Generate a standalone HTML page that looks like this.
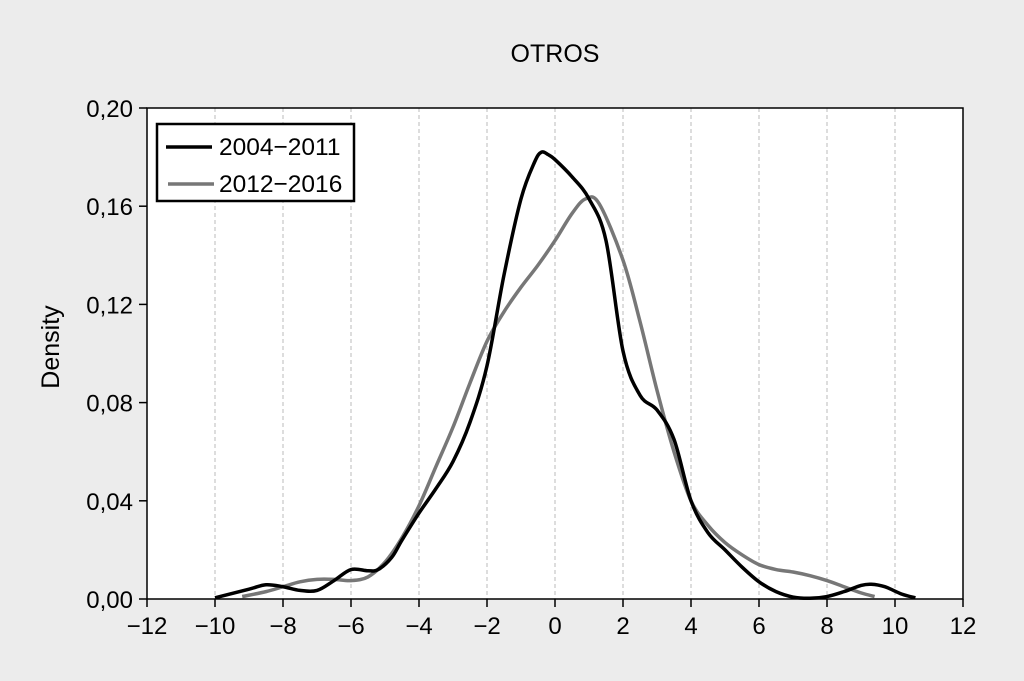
<!DOCTYPE html>
<html><head><meta charset="utf-8"><style>
body{margin:0;background:#ececec;}
svg{display:block;font-family:"Liberation Sans",Arial,sans-serif;}
</style></head><body>
<svg id="c" width="1024" height="681">
<rect width="1024" height="681" fill="#ececec"/>
<text x="555" y="62" font-size="25" text-anchor="middle">OTROS</text>
<rect x="147" y="108" width="816" height="491" fill="#fff"/>
<g id="grid"></g>
<g id="series"></g>
<rect x="147" y="108" width="816" height="491" fill="none" stroke="#000" stroke-width="1.5"/>
<g id="axes"></g>
<text transform="translate(59,347) rotate(-90)" font-size="25" text-anchor="middle">Density</text>
<g>
<rect x="157" y="124" width="197" height="77" fill="#fff" stroke="#000" stroke-width="2.5"/>
<line x1="166" y1="147" x2="212" y2="147" stroke="#000" stroke-width="3.5"/>
<text x="219" y="155" font-size="24.5">2004−2011</text>
<line x1="168" y1="184" x2="214" y2="184" stroke="#777" stroke-width="3.5"/>
<text x="219" y="192" font-size="24.5">2012−2016</text>
</g>
</svg>
<script>
const xTicks=[-12,-10,-8,-6,-4,-2,0,2,4,6,8,10,12];
const yTicks=[0,0.04,0.08,0.12,0.16,0.20];
const yLabels=["0,00","0,04","0,08","0,12","0,16","0,20"];
const xA=[-10,-9,-8.5,-8,-7.5,-7,-6.5,-6,-5.5,-5.2,-4.8,-4.5,-4,-3.5,-3,-2.5,-2,-1.5,-1,-0.6,-0.4,-0.2,0,0.5,1,1.5,2,2.5,3,3.5,4,4.5,5,5.5,6,6.5,7,7.5,8,8.5,9,9.3,9.7,10.2,10.6];
const yA=[0.0005,0.004,0.0058,0.005,0.0035,0.0035,0.0075,0.012,0.0115,0.012,0.017,0.024,0.035,0.045,0.056,0.072,0.095,0.132,0.163,0.178,0.182,0.181,0.179,0.172,0.163,0.146,0.101,0.083,0.077,0.065,0.04,0.027,0.02,0.013,0.007,0.003,0.0008,0.0003,0.001,0.003,0.0055,0.006,0.005,0.002,0.0005];
const xB=[-9.2,-8.5,-8,-7.5,-7,-6.5,-6,-5.5,-5,-4.5,-4,-3.5,-3,-2.5,-2,-1.5,-1,-0.5,0,0.5,0.9,1.3,2,2.5,3,3.5,4,4.5,5,5.5,6,6.5,7,7.5,8,8.5,9,9.4];
const yB=[0.001,0.003,0.005,0.007,0.008,0.008,0.0075,0.009,0.015,0.025,0.038,0.054,0.07,0.088,0.105,0.117,0.127,0.136,0.146,0.157,0.163,0.161,0.138,0.113,0.085,0.06,0.04,0.03,0.023,0.018,0.014,0.012,0.011,0.0095,0.0075,0.005,0.0025,0.001];
const X=v=>147+(v+12)*34, Y=v=>599-v*2455;
const NS="http://www.w3.org/2000/svg";
function mk(t,a,p){const e=document.createElementNS(NS,t);for(const k in a)e.setAttribute(k,a[k]);p.appendChild(e);return e;}
const grid=document.getElementById('grid'),axes=document.getElementById('axes'),ser=document.getElementById('series');
xTicks.forEach(t=>{
 if(t>-12&&t<12){const g=mk('line',{x1:X(t),x2:X(t),y1:108,y2:599,stroke:'#bbb','stroke-dasharray':'4,3','stroke-width':1},grid);
 
 }
 const l=mk('line',{x1:X(t),x2:X(t),y1:599,y2:607,stroke:'#000','stroke-width':1.5},axes);
 
 
 const tx=mk('text',{x:X(t),y:634,'font-size':24,'text-anchor':'middle'},axes);
 tx.textContent=(t<0?'−'+(-t):''+t);
 
 
});
yTicks.forEach((t,i)=>{
 const l=mk('line',{x1:139,x2:147,y1:Y(t),y2:Y(t),stroke:'#000','stroke-width':1.5},axes);
 
 
 const tx=mk('text',{x:133,y:Y(t)+9,'font-size':24,'text-anchor':'end'},axes);
 tx.textContent=yLabels[i];
 
 
});
function path(xs,ys){const p=xs.map((x,i)=>[X(x),Y(ys[i])]);let d='M'+p[0];
 for(let i=0;i<p.length-1;i++){const p0=p[i-1]||p[i],p1=p[i],p2=p[i+1],p3=p[i+2]||p2;
  d+=' C'+(p1[0]+(p2[0]-p0[0])/6)+','+(p1[1]+(p2[1]-p0[1])/6)+' '+(p2[0]-(p3[0]-p1[0])/6)+','+(p2[1]-(p3[1]-p1[1])/6)+' '+p2;}
 return d;}
const b=mk('path',{d:path(xB,yB),fill:'none',stroke:'#777','stroke-width':3.5},ser);


const a=mk('path',{d:path(xA,yA),fill:'none',stroke:'#000','stroke-width':3.5},ser);


</script>
</body></html>
